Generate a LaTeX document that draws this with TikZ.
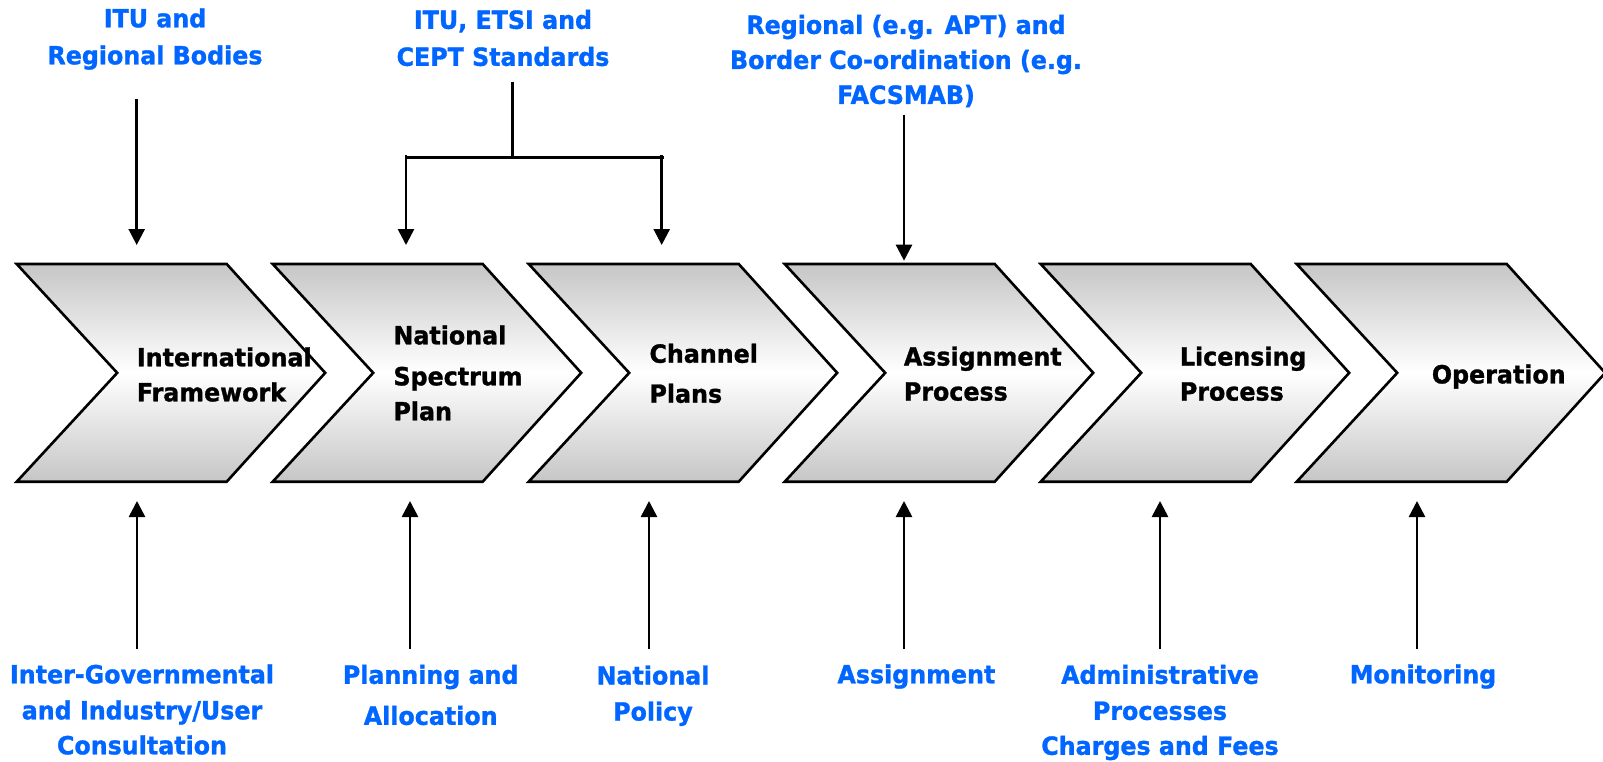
\documentclass[tikz,border=0pt]{standalone}
\usepackage{fontspec}
\setmainfont{DejaVu Sans}[FakeStretch=0.95,BoldFeatures={FakeBold=1.2}]
\usetikzlibrary{arrows.meta}
\definecolor{labblue}{RGB}{0,102,255}
\definecolor{chevgray}{RGB}{198,198,198}
\begin{document}
\begin{tikzpicture}[x=1pt,y=-1pt,
  chev/.style={draw=black,line width=2.6pt,line join=miter,top color=chevgray,bottom color=chevgray,middle color=white},
  stage/.style={font=\bfseries\fontsize{25}{35}\selectfont,align=left,anchor=west,inner sep=0pt,text=black},
  src/.style={font=\bfseries\fontsize{25}{35}\selectfont,align=center,inner sep=0pt,text=labblue},
  arr/.style={line width=2.6pt,-{Triangle[width=16pt,length=16pt]}},
  ln/.style={line width=2.6pt}]
\useasboundingbox (0,0) rectangle (1603,761);
% chevrons
\foreach \i in {0,...,5}{
  \pgfmathsetmacro\xa{16.7+256*\i}
  \path[chev] (\xa,264) -- ++(210,0) -- ++(98.5,108.85) -- ++(-98.5,108.85) -- ++(-210,0) -- ++(100.5,-108.85) -- cycle;
}
% stage labels
\node[stage] (s1) at (136.7,374.5) {International\\Framework};
\node[stage] (s2) at (393.3,373) {National\\[6pt]Spectrum\\Plan};
\node[stage] (s3) at (649.3,373.4) {Channel\\[5pt]Plans};
\node[stage] (s4) at (903.7,373.7) {Assignment\\Process};
\node[stage] (s5) at (1179.7,373.7) {Licensing\\Process};
\node[stage] (s6) at (1431.7,376.5) {Operation};
% source labels (top)
\node[src] (t1) at (155,39) {ITU and\\[2pt]Regional Bodies};
\node[src] (t2) at (503,38) {ITU, ETSI and\\[2pt]CEPT Standards};
\node[src] (t3) at (906,61) {Regional (e.g. APT) and\\Border Co-ordination (e.g.\\FACSMAB)};
% source labels (bottom)
\node[src] (b1) at (142,709.5) {Inter-Governmental\\[1pt]and Industry/User\\Consultation};
\node[src] (b2) at (430.7,695) {Planning and\\[6pt]Allocation};
\node[src] (b3) at (653,695.7) {National\\[1pt]Policy};
\node[src] (b4) at (916.4,676.5) {Assignment};
\node[src] (b5) at (1160,712.5) {Administrative\\[1pt]Processes\\Charges and Fees};
\node[src] (b6) at (1423,676.5) {Monitoring};
% arrow end points
\coordinate (t1s) at (136.7,99);
\coordinate (t1e) at (136.7,245);
\coordinate (t2s) at (512.7,81.7);
\coordinate (t2j) at (512.7,157.3);
\coordinate (t2l) at (405,157.3);
\coordinate (t2r) at (664,157.3);
\coordinate (t2a) at (406,155);
\coordinate (t2ae) at (406,245);
\coordinate (t2b) at (661.7,155);
\coordinate (t2be) at (661.7,245);
\coordinate (t3s) at (904,114.5);
\coordinate (t3e) at (904,260.7);
\foreach \n/\x in {1/137,2/410,3/649,4/904,5/1160,6/1417}{
  \coordinate (b\n s) at (\x,649);
  \coordinate (b\n e) at (\x,501);
}
% connectors
\draw[arr] (t1s) -- (t1e);
\draw[ln] (t2s) -- (t2j);
\draw[ln] (t2l) -- (t2r);
\draw[arr] (t2a) -- (t2ae);
\draw[arr] (t2b) -- (t2be);
\draw[arr] (t3s) -- (t3e);
\foreach \n in {1,...,6}{
  \draw[arr] (b\n s) -- (b\n e);
}
\end{tikzpicture}
\end{document}
